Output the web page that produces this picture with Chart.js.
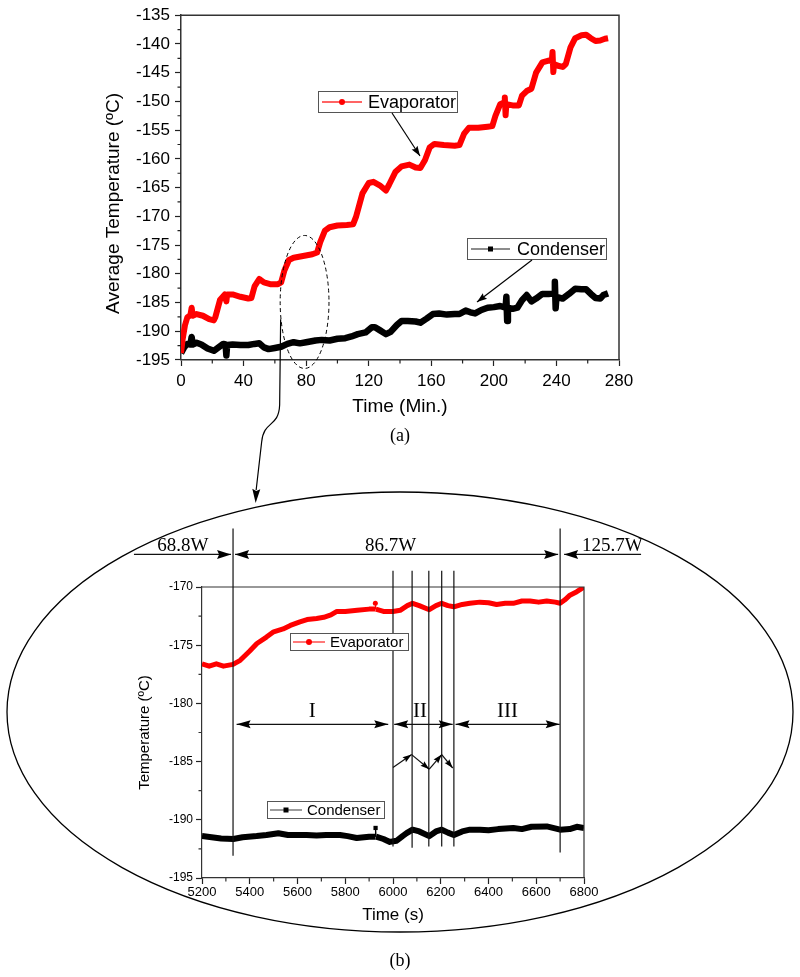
<!DOCTYPE html>
<html>
<head>
<meta charset="utf-8">
<script src="https://cdn.jsdelivr.net/npm/chart.js@4"></script>
<style>
  html, body { margin: 0; padding: 0; background: #fff; }
  #wrap { position: relative; width: 800px; height: 977px; }
  canvas { position: absolute; left: 0; top: 0; }
</style>
</head>
<body>
<div id="wrap">
  <canvas id="overviewChart" width="800" height="977"></canvas>
  <canvas id="zoomChart" width="800" height="977"></canvas>
</div>
<script>
// (a) whole run, time in minutes
const evapMin = [0,1,2.5,4,6,6.8,7.5,10,14,18,
  21,22,25,28,29,29.5,33,38,43,45,
  47,50,53,57,62,64,66,69,72,78,
  84,87,89,92,95,100,106,110,112,116,
  120,123,127,131,133,137,141,146,150,153,
  156,159,162,168,175,178,181,184,190,196,
  199,201,204,206.5,207,207.5,208,212,216,218,
  221,224,227,231,235,237,237.5,238,238.5,241,
  244,246,249,252,256,259,262,265,268,271,
  273];
const evapTemp = [-193.8,-191.5,-189,-187.6,-187.2,-185.9,-187.3,-187,-187.3,-187.9,
  -188.1,-187.5,-184.5,-183.6,-184.8,-183.6,-183.6,-184.0,-184.3,-184.2,
  -182.2,-180.9,-181.5,-181.8,-181.8,-181.5,-179.5,-177.6,-177.2,-176.9,
  -176.6,-176.3,-174.5,-172.5,-171.9,-171.6,-171.5,-171.4,-170,-166,
  -164.2,-164,-164.6,-165.5,-164.5,-162.3,-161.3,-161.0,-161.5,-161.6,
  -160.2,-158,-157.4,-157.6,-157.7,-157.6,-155.6,-154.6,-154.6,-154.4,
  -154.3,-152.5,-150.5,-150.2,-149.3,-152.4,-150.5,-150.7,-150.7,-149,
  -148.2,-147.8,-145,-143.2,-142.9,-143,-141.4,-144.9,-143.5,-143.8,
  -144,-143.5,-140.6,-139,-138.5,-138.4,-139,-139.5,-139.4,-139.1,
  -139.0];
const condMin = [0,2,4,6,6.8,7.5,10,13,17,21,
  24,27,28.5,29,29.5,33,38,43,47,50,
  53,56,60,64,68,72,76,80,86,90,
  95,100,105,109,113,118,122,124,127,131,
  134,138,141,145,150,153,157,161,165,170,
  175,178,182,185,188,192,196,200,204,207.5,
  208,208.5,209,212,215,218,221,224,227,231,
  235,238.5,239,239.5,240,244,248,252,256,259,
  262,265,268,270,273];
const condTemp = [-193.8,-192.8,-192.2,-192.3,-191,-192.3,-192.0,-192.3,-193,-193.4,
  -192.8,-192.2,-192.3,-194.2,-192.4,-192.3,-192.4,-192.4,-192.2,-192.1,
  -192.8,-193.1,-192.9,-192.7,-192.2,-191.9,-192.1,-191.9,-191.6,-191.5,
  -191.6,-191.3,-191.2,-190.9,-190.5,-190.2,-189.3,-189.3,-189.8,-190.5,
  -190.1,-188.9,-188.2,-188.2,-188.3,-188.5,-187.8,-187.0,-186.9,-187.1,
  -187.0,-187.0,-186.4,-186.7,-186.9,-186.3,-185.9,-185.8,-185.6,-185.9,
  -184.0,-188.2,-185.9,-186.1,-185.9,-184.6,-183.7,-184.8,-184.3,-183.5,
  -183.5,-183.4,-181.4,-186.0,-184,-184.3,-183.5,-182.6,-182.7,-182.7,
  -183.5,-184.2,-184.3,-183.7,-183.4];

// (b) zoom on the 86.7W step, time in seconds
const evapSec = [5200,5230,5260,5290,5330,5360,5400,5430,5470,5500,
  5540,5570,5610,5640,5680,5710,5740,5765,5800,5850,
  5900,5925,5926,5928,5960,6000,6030,6060,6082,6110,
  6152,6180,6204,6230,6255,6290,6322,6364,6400,6434,
  6470,6504,6540,6574,6610,6644,6680,6700,6720,6741,
  6770,6800];
const evapTempB = [-176.6,-176.8,-176.6,-176.8,-176.65,-176.3,-175.5,-174.85,-174.3,-173.85,
  -173.6,-173.3,-173.0,-172.8,-172.7,-172.6,-172.4,-172.1,-172.1,-172.0,
  -171.9,-171.9,-171.4,-171.9,-172.1,-172.1,-172.0,-171.6,-171.4,-171.6,
  -171.95,-171.6,-171.4,-171.6,-171.7,-171.5,-171.4,-171.3,-171.35,-171.5,
  -171.4,-171.4,-171.2,-171.2,-171.3,-171.2,-171.3,-171.4,-171.1,-170.7,
  -170.4,-170.0];
const condSec = [5200,5240,5280,5331,5370,5429,5470,5520,5560,5600,
  5638,5680,5720,5778,5810,5848,5900,5926,5927,5929,
  5960,5987,6015,6040,6057,6082,6110,6152,6180,6204,
  6230,6255,6290,6322,6364,6400,6440,6504,6540,6580,
  6644,6670,6700,6740,6770,6800];
const condTempB = [-191.4,-191.5,-191.6,-191.65,-191.5,-191.4,-191.3,-191.15,-191.3,-191.3,
  -191.3,-191.35,-191.3,-191.3,-191.4,-191.56,-191.45,-191.45,-190.7,-191.45,
  -191.65,-191.9,-191.8,-191.4,-191.15,-190.85,-191.0,-191.4,-191.0,-190.85,
  -191.1,-191.3,-191.0,-190.85,-190.85,-190.9,-190.8,-190.7,-190.8,-190.6,
  -190.57,-190.7,-190.85,-190.8,-190.6,-190.7];

// minor tick positions
const topMinorX = [20,60,100,140,180,220,260];
const topMinorY = [-137.5,-142.5,-147.5,-152.5,-157.5,-162.5,-167.5,-172.5,-177.5,-182.5,-187.5,-192.5];
const zoomMinorX = [5300,5500,5700,5900,6100,6300,6500,6700];
const zoomMinorY = [-172.5,-177.5,-182.5,-187.5,-192.5];

// annotations on (b)
const boundSec = [5330,6000,6080,6150,6204,6255,6700];
const boundTop = [-164.97,-168.6,-168.6,-168.6,-168.6,-168.6,-164.97];
const boundBottom = [-193.08,-192.3,-192.4,-192.3,-192.3,-192.3,-192.8];
const powerLabels = ['68.8W','86.7W','125.7W'];
const powerLabelSec = [5120,5990,6919];
const phaseLabels = ['I','II','III'];
const phaseLabelSec = [5662,6113,6480];
const phaseFrom = [5345,6005,6262];
const phaseTo = [5980,6250,6698];
const zigSec = [6000,6078,6152,6204,6250];
const zigTemp = [-185.5,-184.4,-185.65,-184.4,-185.55];

const sans = "'Liberation Sans', Arial, sans-serif";
const serif = "'Liberation Serif', 'Times New Roman', serif";
Chart.defaults.font.family = sans;
Chart.defaults.color = '#000';

function pts(xs, ys) { return xs.map((x, i) => ({x: x, y: ys[i]})); }

function head(ctx, x, y, ang, len, w) {
  ctx.save();
  ctx.translate(x, y);
  ctx.rotate(ang);
  ctx.beginPath();
  ctx.moveTo(0, 0);
  ctx.lineTo(-len, -w / 2);
  ctx.lineTo(-len * 0.85, 0);
  ctx.lineTo(-len, w / 2);
  ctx.closePath();
  ctx.fill();
  ctx.restore();
}

function arrow(ctx, x1, y1, x2, y2, len, w, both) {
  ctx.beginPath();
  ctx.moveTo(x1, y1);
  ctx.lineTo(x2, y2);
  ctx.stroke();
  const a = Math.atan2(y2 - y1, x2 - x1);
  head(ctx, x2, y2, a, len, w);
  if (both) head(ctx, x1, y1, a + Math.PI, len, w);
}

function minorTicks(ctx, sx, sy, a, xs, ys, len) {
  ctx.beginPath();
  xs.forEach(v => { const p = sx.getPixelForValue(v); ctx.moveTo(p, a.bottom); ctx.lineTo(p, a.bottom + len); });
  ys.forEach(v => { const p = sy.getPixelForValue(v); ctx.moveTo(a.left, p); ctx.lineTo(a.left - len, p); });
  ctx.stroke();
}

function legendBox(ctx, bx, by, bw, bh, l0, l1, text, tx, px, lineColor, markColor, square) {
  ctx.save();
  ctx.fillStyle = '#fff';
  ctx.fillRect(bx, by, bw, bh);
  ctx.strokeStyle = '#555';
  ctx.lineWidth = 1;
  ctx.strokeRect(bx + 0.5, by + 0.5, bw, bh);
  const cy = by + bh / 2 + 0.5;
  ctx.strokeStyle = lineColor;
  ctx.lineWidth = 1.3;
  ctx.beginPath(); ctx.moveTo(l0, cy); ctx.lineTo(l1, cy); ctx.stroke();
  ctx.fillStyle = markColor;
  const m = (l0 + l1) / 2;
  if (square) ctx.fillRect(m - 2.5, cy - 2.5, 5, 5);
  else { ctx.beginPath(); ctx.arc(m, cy, 3, 0, Math.PI * 2); ctx.fill(); }
  ctx.fillStyle = '#000';
  ctx.font = px + 'px ' + sans;
  ctx.textBaseline = 'middle';
  ctx.textAlign = 'left';
  ctx.fillText(text, tx, cy + 1);
  ctx.restore();
}

const overviewDecor = {
  id: 'overviewDecor',
  afterDraw(chart) {
    const {ctx, chartArea: a, scales: {x, y}} = chart;
    const X = v => x.getPixelForValue(v), Y = v => y.getPixelForValue(v);
    ctx.save();
    ctx.strokeStyle = '#333';
    ctx.fillStyle = '#000';
    ctx.lineWidth = 1.5;
    ctx.beginPath();
    ctx.moveTo(a.left, a.top); ctx.lineTo(a.right, a.top); ctx.lineTo(a.right, a.bottom);
    ctx.stroke();
    ctx.lineWidth = 1.2;
    ctx.strokeStyle = '#222';
    minorTicks(ctx, x, y, a, topMinorX, topMinorY, 3.5);

    legendBox(ctx, 318, 91, 139, 21, 322, 362, 'Evaporator', 368, 18, '#ff3030', '#ff0000', false);
    legendBox(ctx, 467, 238, 139, 21, 471, 510, 'Condenser', 517, 18, '#666', '#000', true);

    ctx.strokeStyle = '#000';
    ctx.lineWidth = 1.2;
    arrow(ctx, 392, 113, 420, 156, 10, 7, false);
    arrow(ctx, 532, 260, 477, 302, 10, 7, false);

    // dashed ellipse round the 86.7W step
    const cx = X(79), cy = Y(-184.9);
    ctx.setLineDash([4, 3]);
    ctx.lineWidth = 1;
    ctx.beginPath();
    ctx.ellipse(cx, cy, X(94.6) - cx, Y(-196.47) - cy, 0, 0, Math.PI * 2);
    ctx.stroke();
    ctx.setLineDash([]);

    // connector down to the zoomed view
    const sx = X(63.7), sy = Y(-187.9);
    ctx.lineWidth = 1.2;
    ctx.beginPath();
    ctx.moveTo(sx, sy);
    ctx.lineTo(sx - 1, 405);
    ctx.bezierCurveTo(sx - 2, 428, sx - 17, 420, sx - 19, 442);
    ctx.lineTo(sx - 24.5, 490);
    ctx.stroke();
    head(ctx, sx - 25, 503, Math.atan2(13, -0.6), 14, 8);
    ctx.restore();
  }
};

const zoomDecor = {
  id: 'zoomDecor',
  afterDraw(chart) {
    const {ctx, chartArea: a, scales: {x, y}} = chart;
    const X = v => x.getPixelForValue(v), Y = v => y.getPixelForValue(v);
    ctx.save();
    ctx.strokeStyle = '#333';
    ctx.fillStyle = '#000';
    ctx.lineWidth = 1.2;
    ctx.beginPath();
    ctx.moveTo(a.left, a.top); ctx.lineTo(a.right, a.top); ctx.lineTo(a.right, a.bottom);
    ctx.stroke();
    minorTicks(ctx, x, y, a, zoomMinorX, zoomMinorY, 3.5);

    // big ellipse
    ctx.strokeStyle = '#000';
    ctx.lineWidth = 1.3;
    ctx.beginPath();
    ctx.ellipse(chart.width / 2, 712, 393, 220, 0, 0, Math.PI * 2);
    ctx.stroke();

    // phase boundaries
    ctx.lineWidth = 1.2;
    ctx.strokeStyle = '#111';
    boundSec.forEach((t, i) => {
      ctx.beginPath();
      ctx.moveTo(X(t), Y(boundTop[i]));
      ctx.lineTo(X(t), Y(boundBottom[i]));
      ctx.stroke();
    });

    // heater power row
    const r1 = Y(-167.2);
    arrow(ctx, X(4915), r1, X(5330) - 2, r1, 14, 9, false);
    arrow(ctx, X(5330) + 2, r1, X(6700) - 2, r1, 14, 9, true);
    arrow(ctx, X(7039), r1, X(6700) + 4, r1, 14, 9, false);
    ctx.font = '19px ' + serif;
    ctx.textAlign = 'center';
    ctx.textBaseline = 'alphabetic';
    powerLabels.forEach((s, i) => ctx.fillText(s, X(powerLabelSec[i]), r1 - 3));

    // phase row
    const r2 = Y(-181.8);
    phaseFrom.forEach((t, i) => arrow(ctx, X(t), r2, X(phaseTo[i]), r2, 14, 8, true));
    ctx.font = '21px ' + serif;
    ctx.textBaseline = 'middle';
    phaseLabels.forEach((s, i) => ctx.fillText(s, X(phaseLabelSec[i]), Y(-180.69)));

    // oscillation arrows
    ctx.lineWidth = 1.2;
    for (let i = 1; i < zigSec.length; i++) {
      arrow(ctx, X(zigSec[i - 1]), Y(zigTemp[i - 1]), X(zigSec[i]), Y(zigTemp[i]), 9, 6, false);
    }

    // legends
    legendBox(ctx, 290, 633, 118, 17, 293, 325, 'Evaporator', 330, 15, '#ff3030', '#ff0000', false);
    legendBox(ctx, 267, 801, 117, 17, 270, 302, 'Condenser', 307, 15, '#666', '#000', true);

    // panel captions
    ctx.font = '18px ' + serif;
    ctx.textAlign = 'center';
    ctx.textBaseline = 'middle';
    ctx.fillText('(a)', chart.width / 2, 436);
    ctx.fillText('(b)', chart.width / 2, 961);
    ctx.restore();
  }
};

function axis(opts) {
  return Object.assign({
    type: 'linear',
    grid: { drawOnChartArea: false, color: '#222', tickLength: 6, tickWidth: 1.2 },
    border: { color: '#333', width: 1.5 }
  }, opts);
}

new Chart(document.getElementById('overviewChart'), {
  type: 'line',
  data: {
    datasets: [{
      label: 'Evaporator',
      data: pts(evapMin, evapTemp),
      borderColor: '#ff0000',
      borderWidth: 6,
      pointRadius: 0,
      borderJoinStyle: 'round'
    }, {
      label: 'Condenser',
      data: pts(condMin, condTemp),
      borderColor: '#000',
      borderWidth: 6.5,
      pointRadius: 0,
      borderJoinStyle: 'round'
    }]
  },
  options: {
    responsive: false,
    animation: false,
    devicePixelRatio: 1,
    layout: { padding: { left: 100, top: 15, right: 181, bottom: 557 } },
    plugins: { legend: { display: false }, tooltip: { enabled: false } },
    scales: {
      x: axis({
        min: 0, max: 280,
        afterFit: s => { s.height = 60; },
        ticks: { stepSize: 40, autoSkip: false, maxRotation: 0, padding: 5, font: { size: 17 } },
        title: { display: true, text: 'Time (Min.)', font: { size: 19 }, padding: { top: 0, bottom: 2 } }
      }),
      y: axis({
        min: -195, max: -135,
        afterFit: s => { s.width = 81; },
        ticks: { stepSize: 5, autoSkip: false, padding: 5, font: { size: 17 } },
        title: { display: true, text: 'Average Temperature (ºC)\u00a0\u00a0\u00a0\u00a0\u00a0\u00a0', font: { size: 19 }, padding: { top: 2, bottom: 0 } }
      })
    }
  },
  plugins: [overviewDecor]
});

new Chart(document.getElementById('zoomChart'), {
  type: 'line',
  data: {
    datasets: [{
      label: 'Evaporator',
      data: pts(evapSec, evapTempB),
      borderColor: '#ff0000',
      backgroundColor: '#ff0000',
      borderWidth: 5,
      pointRadius: c => (c.dataIndex === 22 ? 2.5 : 0),
      pointBorderWidth: 0,
      pointBackgroundColor: '#ff0000',
      borderJoinStyle: 'round',
      segment: { borderWidth: c => (c.p0DataIndex === 21 || c.p0DataIndex === 22 ? 1.2 : 5) }
    }, {
      label: 'Condenser',
      data: pts(condSec, condTempB),
      borderColor: '#000',
      backgroundColor: '#000',
      borderWidth: 6,
      pointStyle: 'rect',
      pointRadius: c => (c.dataIndex === 18 ? 3 : 0),
      pointBorderWidth: 0,
      pointBackgroundColor: '#000',
      borderJoinStyle: 'round',
      segment: { borderWidth: c => (c.p0DataIndex === 17 || c.p0DataIndex === 18 ? 1.2 : 6) }
    }]
  },
  options: {
    responsive: false,
    animation: false,
    devicePixelRatio: 1,
    layout: { padding: { left: 136, top: 587, right: 216, bottom: 49 } },
    plugins: { legend: { display: false }, tooltip: { enabled: false } },
    scales: {
      x: axis({
        min: 5200, max: 6800,
        border: { color: '#333', width: 1.2 },
        afterFit: s => { s.height = 50; },
        ticks: { stepSize: 200, autoSkip: false, maxRotation: 0, padding: 1, font: { size: 13 }, callback: v => String(v) },
        title: { display: true, text: 'Time (s)', font: { size: 17 }, padding: { top: 0, bottom: 2 } }
      }),
      y: axis({
        min: -195, max: -170,
        border: { color: '#333', width: 1.2 },
        afterFit: s => { s.width = 66; },
        ticks: { stepSize: 5, autoSkip: false, padding: 3, font: { size: 12 }, callback: v => String(v) },
        title: { display: true, text: 'Temperature (ºC)', font: { size: 15 }, padding: { top: 0, bottom: 0 } }
      })
    }
  },
  plugins: [zoomDecor]
});
</script>
</body>
</html>
